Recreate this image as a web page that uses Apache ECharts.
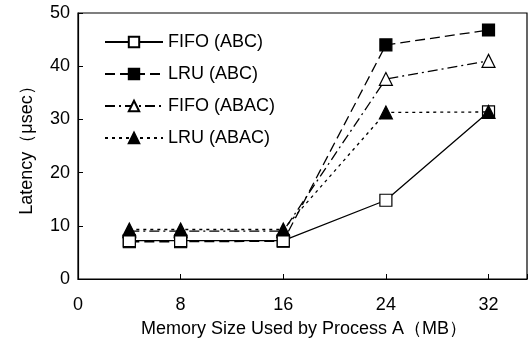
<!DOCTYPE html>
<html><head><meta charset="utf-8">
<script src="https://cdn.jsdelivr.net/npm/echarts@6/dist/echarts.min.js"></script>
<style>html,body{margin:0;padding:0;background:#fff}#c{width:530px;height:354px}</style>
</head><body><div id="c"></div>
<script>
const xValues = [4, 8, 16, 24, 32];
const fifoABC = [7.2, 7.2, 7.2, 14.8, 31.4];
const lruABC = [7.0, 7.0, 7.1, 44.0, 46.8];
const fifoABAC = [9.0, 9.0, 9.0, 37.6, 41.0];
const lruABAC = [9.3, 9.3, 9.3, 31.3, 31.4];
const xTicks = [0, 8, 16, 24, 32];
const yTicks = [0, 10, 20, 30, 40, 50];
const seriesNames = ['FIFO (ABC)', 'LRU (ABC)', 'FIFO (ABAC)', 'LRU (ABAC)'];

const font = 'Liberation Sans, Arial, sans-serif';
const pair = arr => xValues.map((x, i) => [x, arr[i]]);
const tri = 'path://M5,0 L10,10 L0,10 Z';
function mk(name, data, symbol, filled, dash, z) {
  return {
    name, type: 'line', data: pair(data), symbol, symbolSize: symbol === 'rect' ? 12 : [13, 13],
    z,
    lineStyle: { color: '#000', width: 1.3, type: dash },
    itemStyle: { color: filled ? '#000' : '#fff', borderColor: '#000', borderWidth: 1.2 },
    emphasis: { disabled: true }
  };
}
const chart = echarts.init(document.getElementById('c'));
chart.setOption({
  animation: false,
  backgroundColor: '#fff',
  grid: { left: 78, right: 3, top: 13, bottom: 75, show: true, borderColor: '#000', borderWidth: 1.2 },
  legend: {
    orient: 'vertical', left: 99, top: 28, itemGap: 14, itemWidth: 58, itemHeight: 13,
    textStyle: { fontFamily: font, fontSize: 18, lineHeight: 18, color: '#000' },
    data: seriesNames
  },
  xAxis: {
    type: 'value', min: 0, max: 35, interval: 8,
    axisLine: { lineStyle: { color: '#000', width: 1.2 } },
    axisTick: { inside: true, length: 5, lineStyle: { color: '#000' } },
    splitLine: { show: false },
    axisLabel: { fontFamily: font, fontSize: 18, color: '#000', margin: 17,
      formatter: v => xTicks.includes(v) ? String(v) : '' },
    name: 'Memory Size Used by Process A（MB）', nameLocation: 'middle', nameGap: 41,
    nameTextStyle: { fontFamily: font, fontSize: 18, color: '#000', padding: [0, 0, 0, 3] }
  },
  yAxis: {
    type: 'value', min: 0, max: 50, interval: 10,
    axisLine: { lineStyle: { color: '#000', width: 1.2 } },
    axisTick: { inside: true, length: 5, lineStyle: { color: '#000' } },
    splitLine: { show: false },
    axisLabel: { fontFamily: font, fontSize: 18, color: '#000', margin: 8,
      formatter: v => yTicks.includes(v) ? String(v) : '' },
    name: 'Latency（μsec）', nameLocation: 'middle', nameGap: 42, nameRotate: 90,
    nameTextStyle: { fontFamily: font, fontSize: 18, color: '#000' }
  },
  series: [
    mk(seriesNames[0], fifoABC, 'rect', false, 'solid', 5),
    mk(seriesNames[1], lruABC, 'rect', true, [10, 5], 4),
    mk(seriesNames[2], fifoABAC, tri, false, [10, 4, 2, 4], 3),
    mk(seriesNames[3], lruABAC, tri, true, [3, 4], 6)
  ]
});
</script></body></html>
